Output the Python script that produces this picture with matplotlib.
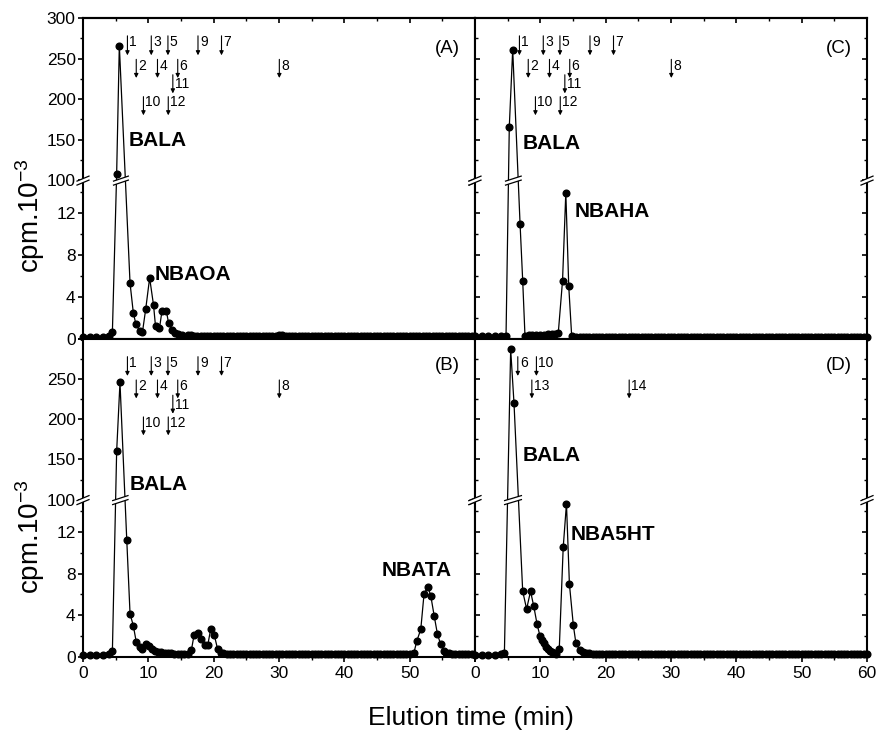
import numpy as np
import matplotlib
matplotlib.use('Agg')
import matplotlib.pyplot as plt
from matplotlib.patches import Polygon
from matplotlib.lines import Line2D
from matplotlib.ticker import FixedLocator, FixedFormatter, NullFormatter
import matplotlib.transforms as mtrans

plt.rcParams['font.family'] = ['Liberation Sans', 'DejaVu Sans']
plt.rcParams['mathtext.fontset'] = 'custom'
plt.rcParams['mathtext.rm'] = 'Liberation Sans'
plt.rcParams['mathtext.it'] = 'Liberation Sans:italic'
plt.rcParams['mathtext.bf'] = 'Liberation Sans:bold'

# ---------------- data ----------------
tA = [0, 1, 2, 3, 4, 4.5, 5.15, 5.56, 7.2, 7.7, 8.1, 8.7, 9.1, 9.6, 10.2, 10.8, 11.1, 11.7, 12.1, 12.75, 13.1, 13.6, 14.1, 14.6, 15.2,
      16, 16.5, 17, 17.5, 18, 18.5, 19, 19.5, 20, 20.5,
      21, 21.5, 22, 22.5, 23, 23.5, 24, 24.5, 25, 25.5,
      26, 26.5, 27, 27.5, 28, 28.5, 29, 29.5, 30, 30.5,
      31, 31.5, 32, 32.5, 33, 33.5, 34, 34.5, 35, 35.5,
      36, 36.5, 37, 37.5, 38, 38.5, 39, 39.5, 40, 40.5,
      41, 41.5, 42, 42.5, 43, 43.5, 44, 44.5, 45, 45.5,
      46, 46.5, 47, 47.5, 48, 48.5, 49, 49.5, 50, 50.5,
      51, 51.5, 52, 52.5, 53, 53.5, 54, 54.5, 55, 55.5,
      56, 56.5, 57, 57.5, 58, 58.5, 59, 59.5, 60]
vA = [0.2, 0.2, 0.2, 0.2, 0.25, 0.7, 108, 266, 5.3, 2.5, 1.4, 0.75, 0.65, 2.85, 5.8, 3.2, 1.2, 1.0, 2.7, 2.7, 1.5, 0.85, 0.55, 0.45, 0.4,
      0.35, 0.35, 0.3, 0.3, 0.3, 0.3, 0.3, 0.3, 0.3, 0.3,
      0.3, 0.3, 0.3, 0.3, 0.3, 0.3, 0.3, 0.3, 0.3, 0.3,
      0.3, 0.3, 0.3, 0.3, 0.3, 0.3, 0.3, 0.3, 0.35, 0.35,
      0.3, 0.3, 0.3, 0.3, 0.3, 0.3, 0.3, 0.3, 0.3, 0.3,
      0.3, 0.3, 0.3, 0.3, 0.3, 0.3, 0.3, 0.3, 0.3, 0.3,
      0.3, 0.3, 0.3, 0.3, 0.3, 0.3, 0.3, 0.3, 0.3, 0.3,
      0.3, 0.3, 0.3, 0.3, 0.3, 0.3, 0.3, 0.3, 0.3, 0.3,
      0.3, 0.3, 0.3, 0.3, 0.3, 0.3, 0.3, 0.3, 0.3, 0.3,
      0.3, 0.3, 0.3, 0.3, 0.3, 0.3, 0.3, 0.3, 0.3]

tB = [0, 1, 2, 3, 4, 4.5, 5.15, 5.66, 6.7, 7.2, 7.7, 8.15, 8.65, 9.1, 9.65, 10.05, 10.5, 11.0, 11.5, 12, 12.5, 13, 13.5,
      14, 14.5, 15, 15.5, 16,
      16.6, 17.0, 17.55, 18.1, 18.6, 19.1, 19.55, 20.1, 20.6, 21.1,
      21.5, 22, 22.5, 23, 23.5, 24, 24.5, 25, 25.5, 26,
      26.5, 27, 27.5, 28, 28.5, 29, 29.5, 30, 30.5, 31,
      31.5, 32, 32.5, 33, 33.5, 34, 34.5, 35, 35.5, 36,
      36.5, 37, 37.5, 38, 38.5, 39, 39.5, 40, 40.5, 41,
      41.5, 42, 42.5, 43, 43.5, 44, 44.5, 45, 45.5, 46,
      46.5, 47, 47.5, 48, 48.5, 49, 49.5, 50,
      50.65, 51.1, 51.7, 52.2, 52.8, 53.25, 53.75, 54.25, 54.75, 55.2,
      55.6, 56, 56.5, 57, 57.5, 58, 58.5, 59, 59.5, 60]
vB = [0.2, 0.2, 0.2, 0.2, 0.25, 0.6, 160, 246, 11.2, 4.15, 3.0, 1.45, 1.0, 0.8, 1.2, 1.05, 0.8, 0.6, 0.5, 0.45, 0.4, 0.35, 0.35,
      0.3, 0.3, 0.25, 0.25, 0.25,
      0.7, 2.1, 2.3, 1.7, 1.15, 1.15, 2.7, 2.1, 0.75, 0.4,
      0.35, 0.3, 0.3, 0.3, 0.3, 0.3, 0.3, 0.3, 0.3, 0.3,
      0.3, 0.3, 0.3, 0.3, 0.3, 0.3, 0.3, 0.3, 0.3, 0.3,
      0.3, 0.3, 0.3, 0.3, 0.3, 0.3, 0.3, 0.3, 0.3, 0.3,
      0.3, 0.3, 0.3, 0.3, 0.3, 0.3, 0.3, 0.3, 0.3, 0.3,
      0.3, 0.3, 0.3, 0.3, 0.3, 0.3, 0.3, 0.3, 0.3, 0.3,
      0.3, 0.3, 0.3, 0.3, 0.3, 0.3, 0.3, 0.3,
      0.4, 1.55, 2.65, 6.05, 6.75, 5.8, 3.95, 2.2, 1.2, 0.6,
      0.4, 0.35, 0.3, 0.3, 0.3, 0.3, 0.3, 0.3, 0.3, 0.3]

tC = [0, 1, 2, 3, 4, 4.75, 5.25, 5.77, 6.9, 7.3, 7.65, 8.2, 8.8, 9.4, 10, 10.6, 11.2, 11.8, 12.3, 12.75, 13.4, 13.9, 14.35, 14.8, 15.5,
      16, 16.5, 17, 17.5, 18, 18.5, 19, 19.5, 20, 20.5,
      21, 21.5, 22, 22.5, 23, 23.5, 24, 24.5, 25, 25.5,
      26, 26.5, 27, 27.5, 28, 28.5, 29, 29.5, 30, 30.5,
      31, 31.5, 32, 32.5, 33, 33.5, 34, 34.5, 35, 35.5,
      36, 36.5, 37, 37.5, 38, 38.5, 39, 39.5, 40, 40.5,
      41, 41.5, 42, 42.5, 43, 43.5, 44, 44.5, 45, 45.5,
      46, 46.5, 47, 47.5, 48, 48.5, 49, 49.5, 50, 50.5,
      51, 51.5, 52, 52.5, 53, 53.5, 54, 54.5, 55, 55.5,
      56, 56.5, 57, 57.5, 58, 58.5, 59, 59.5, 60]
vC = [0.3, 0.3, 0.3, 0.3, 0.3, 0.3, 166, 261, 10.9, 5.55, 0.3, 0.35, 0.35, 0.4, 0.4, 0.4, 0.45, 0.45, 0.5, 0.6, 5.55, 13.9, 5.0, 0.25, 0.2,
      0.2, 0.2, 0.2, 0.2, 0.2, 0.2, 0.2, 0.2, 0.2, 0.2,
      0.2, 0.2, 0.2, 0.2, 0.2, 0.2, 0.2, 0.2, 0.2, 0.2,
      0.2, 0.2, 0.2, 0.2, 0.2, 0.2, 0.2, 0.2, 0.2, 0.2,
      0.2, 0.2, 0.2, 0.2, 0.2, 0.2, 0.2, 0.2, 0.2, 0.2,
      0.2, 0.2, 0.2, 0.2, 0.2, 0.2, 0.2, 0.2, 0.2, 0.2,
      0.2, 0.2, 0.2, 0.2, 0.2, 0.2, 0.2, 0.2, 0.2, 0.2,
      0.2, 0.2, 0.2, 0.2, 0.2, 0.2, 0.2, 0.2, 0.2, 0.2,
      0.2, 0.2, 0.2, 0.2, 0.2, 0.2, 0.2, 0.2, 0.2, 0.2,
      0.2, 0.2, 0.2, 0.2, 0.2, 0.2, 0.2, 0.2, 0.2]

tD = [0, 1, 2, 3, 4, 4.5, 5.46, 5.97, 7.3, 7.9, 8.5, 9.0, 9.5, 9.95, 10.3, 10.6, 10.9, 11.2, 11.5, 11.8, 12.1, 12.4,
      12.9, 13.5, 14.0, 14.45, 15.05, 15.45, 16.0, 16.5,
      17, 17.5, 18, 18.5, 19, 19.5, 20, 20.5,
      21, 21.5, 22, 22.5, 23, 23.5, 24, 24.5, 25, 25.5,
      26, 26.5, 27, 27.5, 28, 28.5, 29, 29.5, 30, 30.5,
      31, 31.5, 32, 32.5, 33, 33.5, 34, 34.5, 35, 35.5,
      36, 36.5, 37, 37.5, 38, 38.5, 39, 39.5, 40, 40.5,
      41, 41.5, 42, 42.5, 43, 43.5, 44, 44.5, 45, 45.5,
      46, 46.5, 47, 47.5, 48, 48.5, 49, 49.5, 50, 50.5,
      51, 51.5, 52, 52.5, 53, 53.5, 54, 54.5, 55, 55.5,
      56, 56.5, 57, 57.5, 58, 58.5, 59, 59.5, 60]
vD = [0.2, 0.2, 0.2, 0.2, 0.25, 0.4, 287, 220, 6.3, 4.6, 6.3, 4.85, 3.15, 2.0, 1.6, 1.3, 1.0, 0.8, 0.6, 0.45, 0.35, 0.3,
      0.8, 10.5, 14.7, 7.0, 3.05, 1.3, 0.7, 0.45,
      0.35, 0.35, 0.3, 0.3, 0.3, 0.3, 0.3, 0.3,
      0.3, 0.3, 0.3, 0.3, 0.3, 0.3, 0.3, 0.3, 0.3, 0.3,
      0.3, 0.3, 0.3, 0.3, 0.3, 0.3, 0.3, 0.3, 0.3, 0.3,
      0.3, 0.3, 0.3, 0.3, 0.3, 0.3, 0.3, 0.3, 0.3, 0.3,
      0.3, 0.3, 0.3, 0.3, 0.3, 0.3, 0.3, 0.3, 0.3, 0.3,
      0.3, 0.3, 0.3, 0.3, 0.3, 0.3, 0.3, 0.3, 0.3, 0.3,
      0.3, 0.3, 0.3, 0.3, 0.3, 0.3, 0.3, 0.3, 0.3, 0.3,
      0.3, 0.3, 0.3, 0.3, 0.3, 0.3, 0.3, 0.3, 0.3, 0.3,
      0.3, 0.3, 0.3, 0.3, 0.3, 0.3, 0.3, 0.3, 0.3]

# peak names and their label anchor (time, cpm)
namesA = ['BALA', 'NBAOA']; nxA = [7.05, 10.9]; nyA = [148.8, 6.15]
namesB = ['BALA', 'NBATA']; nxB = [7.1, 45.7]; nyB = [119, 8.3]
namesC = ['BALA', 'NBAHA']; nxC = [7.3, 15.2]; nyC = [145, 12.07]
namesD = ['BALA', 'NBA5HT']; nxD = [7.3, 14.6]; nyD = [154.6, 11.7]

# standard elution markers (arrows)
std_names = ['1', '2', '3', '4', '5', '6', '7', '8', '9', '10', '11', '12']
std_x = [6.8, 8.15, 10.45, 11.4, 13.0, 14.5, 21.2, 30.05, 17.6, 9.25, 13.75, 13.05]
std_row = [0, 1, 0, 1, 0, 1, 0, 1, 0, 3, 2, 3]
stdD_names = ['6', '10', '13', '14']
stdD_x = [6.55, 9.4, 8.7, 23.6]
stdD_row = [0, 0, 1, 1]

y_major = [0, 4, 8, 12, 100, 150, 200, 250, 300]
y_minor = [2, 6, 10, 14, 125, 175, 225, 275]
x_major = [0, 10, 20, 30, 40, 50, 60]
x_minor = [5, 15, 25, 35, 45, 55]

# ---------------- broken y scale (Origin-like) ----------------
LOW, HIGH, EPS, UPSPAN = 15.0, 100.0, 1e-3, 15.4
K = UPSPAN / 200.0
U1 = LOW
U2 = LOW + (HIGH - LOW) * EPS


def fwd(v):
    v = np.asarray(v, dtype=float)
    return np.where(v <= LOW, v, np.where(v < HIGH, LOW + (v - LOW) * EPS, U2 + (v - HIGH) * K))


def inv(u):
    u = np.asarray(u, dtype=float)
    return np.where(u <= U1, u, np.where(u < U2, LOW + (u - U1) / EPS, HIGH + (u - U2) / K))


W, H = 883, 735
fig = plt.figure(figsize=(W / 100, H / 100), dpi=100)

ROW_TOP = [278, 249, 230, 203]
ROW_TIP = [254, 226, 207, 180]
ROW_TXT = [270, 241, 218, 196]


def draw_break(ax, xa, xb, trans, axh):
    fy = 1.0 / axh
    b = float(fwd((LOW + HIGH) / 2)) / float(fwd(300))
    s = 5 * fy
    t = 4 * fy
    pts = [(xa, b - t / 2 - s / 2), (xb, b - t / 2 + s / 2), (xb, b + t / 2 + s / 2), (xa, b + t / 2 - s / 2)]
    ax.add_patch(Polygon(pts, closed=True, facecolor='white', edgecolor='none',
                         transform=trans, clip_on=False, zorder=6))
    for (p, q) in [(pts[0], pts[1]), (pts[3], pts[2])]:
        ax.add_line(Line2D([p[0], q[0]], [p[1], q[1]], color='k', lw=0.9,
                           transform=trans, clip_on=False, zorder=7))


panels = [
    dict(t=tA, v=vA, names=namesA, nx=nxA, ny=nyA, tag='(A)', tagy=262, col=0, row=0,
         sn=std_names, sx=std_x, sr=std_row),
    dict(t=tB, v=vB, names=namesB, nx=nxB, ny=nyB, tag='(B)', tagy=267, col=0, row=1,
         sn=std_names, sx=std_x, sr=std_row),
    dict(t=tC, v=vC, names=namesC, nx=nxC, ny=nyC, tag='(C)', tagy=262, col=1, row=0,
         sn=std_names, sx=std_x, sr=std_row),
    dict(t=tD, v=vD, names=namesD, nx=nxD, ny=nyD, tag='(D)', tagy=267, col=1, row=1,
         sn=stdD_names, sx=stdD_x, sr=stdD_row),
]

x_left = [83, 475]
row_px = [(18, 339), (339, 657)]
axw = 392

for p in panels:
    top, bot = row_px[p['row']]
    axh = bot - top
    ax = fig.add_axes([x_left[p['col']] / W, 1 - bot / H, axw / W, axh / H])
    ax.set_yscale('function', functions=(fwd, inv))
    ax.plot(p['t'], p['v'], '-', color='k', lw=0.9, marker='o', ms=4.8,
            mfc='k', mec='k', zorder=3, clip_on=False)
    ax.set_xlim(0, 60)
    ax.set_ylim(0, 300)
    for sp in ax.spines.values():
        sp.set_linewidth(1.5)

    ax.yaxis.set_major_locator(FixedLocator(y_major))
    ax.yaxis.set_minor_locator(FixedLocator(y_minor))
    ax.xaxis.set_major_locator(FixedLocator(x_major))
    ax.xaxis.set_minor_locator(FixedLocator(x_minor))
    ax.yaxis.set_minor_formatter(NullFormatter())
    ax.xaxis.set_minor_formatter(NullFormatter())

    ax.tick_params(which='major', length=3.8, width=1.2, labelsize=12.5)
    ax.tick_params(which='minor', length=2.0, width=1.0)

    # y ticks
    if p['col'] == 0:
        ax.tick_params(axis='y', which='both', direction='out', left=True, right=False,
                       labelleft=True, pad=1.5)
        ylabels = [str(v) for v in y_major]
        if p['row'] == 1:
            ylabels[-1] = ''
        ax.yaxis.set_major_formatter(FixedFormatter(ylabels))
    else:
        ax.tick_params(axis='y', which='both', direction='in', left=True, right=True,
                       labelleft=False)

    # x ticks
    ax.tick_params(axis='x', which='both', direction='out', bottom=True, top=False, pad=3)
    if p['row'] == 1:
        xlabels = [str(v) for v in x_major]
        if p['col'] == 0:
            xlabels[-1] = ''
        ax.xaxis.set_major_formatter(FixedFormatter(xlabels))
    else:
        ax.tick_params(axis='x', labelbottom=False)
        sec = ax.secondary_xaxis('top')
        sec.xaxis.set_major_locator(FixedLocator(x_major))
        sec.xaxis.set_minor_locator(FixedLocator(x_minor))
        sec.tick_params(which='both', direction='in', labeltop=False)
        sec.tick_params(which='major', length=3.8, width=1.2)
        sec.tick_params(which='minor', length=2.0, width=1.0)
        sec.spines['top'].set_linewidth(1.5)

    # break marks on the spines
    fx = 1.0 / axw
    for xs in (0.0, 1.0):
        draw_break(ax, xs - 6 * fx, xs + 6 * fx, ax.transAxes, axh)
    # break gap across the peak lines
    u = fwd(p['v'])
    ub = float(fwd((LOW + HIGH) / 2))
    tt = np.asarray(p['t'], dtype=float)
    cross = []
    for i in range(len(tt) - 1):
        if (u[i] - ub) * (u[i + 1] - ub) < 0:
            cross.append(tt[i] + (ub - u[i]) / (u[i + 1] - u[i]) * (tt[i + 1] - tt[i]))
    if cross:
        blend = mtrans.blended_transform_factory(ax.transData, ax.transAxes)
        draw_break(ax, min(cross) - 0.45, max(cross) + 0.45, blend, axh)

    # peak names
    for name, x, y in zip(p['names'], p['nx'], p['ny']):
        ax.text(x, y, name, fontsize=15, fontweight='bold', ha='left', va='center', zorder=8)
    # panel tag
    ax.text(57.7, p['tagy'], p['tag'], fontsize=13.5, ha='right', va='center')

    # standard markers
    for name, x, r in zip(p['sn'], p['sx'], p['sr']):
        ax.annotate('', xy=(x, ROW_TIP[r]), xytext=(x, ROW_TOP[r]),
                    arrowprops=dict(arrowstyle='-|>', color='k', lw=0.8,
                                    mutation_scale=6, shrinkA=0, shrinkB=0))
        ax.text(x + 0.3, ROW_TXT[r], name, fontsize=10, ha='left', va='center')

# axis labels
fig.text(30 / W, 1 - 216 / H, 'cpm.10$^{-3}$', rotation=90, fontsize=20, ha='center', va='center')
fig.text(30 / W, 1 - 537 / H, 'cpm.10$^{-3}$', rotation=90, fontsize=20, ha='center', va='center')
fig.text(471 / W, 1 - 718 / H, 'Elution time (min)', fontsize=19, ha='center', va='center')

fig.savefig('out.png', dpi=100)
